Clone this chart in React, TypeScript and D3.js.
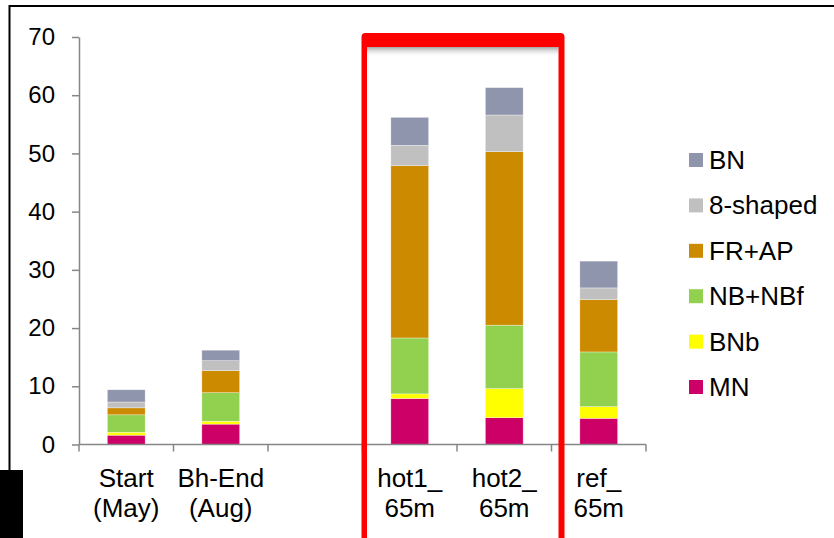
import React, { useRef, useEffect } from 'react';
import * as d3 from 'd3';

// categories (blank slot between Bh-End and hot1)
const categories = ['Start\n(May)', 'Bh-End\n(Aug)', '', 'hot1_\n65m', 'hot2_\n65m', 'ref_\n65m'];

// series, bottom to top
const seriesNames = ['MN', 'BNb', 'NB+NBf', 'FR+AP', '8-shaped', 'BN'];
const seriesColors = ['#cc0066', '#ffff00', '#92d050', '#cc8a00', '#c0c0c0', '#8f95ad'];

const mnValues = [1.6, 3.5, 0, 7.9, 4.6, 4.5];
const bnbValues = [0.5, 0.5, 0, 0.8, 5.0, 2.0];
const nbNbfValues = [3.0, 4.9, 0, 9.6, 10.9, 9.4];
const frApValues = [1.2, 3.8, 0, 29.6, 29.8, 9.0];
const eightShapedValues = [1.0, 1.7, 0, 3.5, 6.3, 2.0];
const bnValues = [2.1, 1.8, 0, 4.8, 4.7, 4.6];

const yTicks = [0, 10, 20, 30, 40, 50, 60, 70];

const W = 834;
const H = 538;
const FONT = '"Liberation Sans", Arial, sans-serif';

const App: React.FC = () => {
  const svgRef = useRef<SVGSVGElement>(null);

  useEffect(() => {
    if (!svgRef.current) return;
    const svg = d3.select(svgRef.current);
    svg.selectAll('*').remove();

    const left = 79;
    const right = 646;
    const y0 = 444.5;
    const yTop = 37;

    const rows = categories.map((c, i) => ({
      cat: c,
      MN: mnValues[i],
      BNb: bnbValues[i],
      'NB+NBf': nbNbfValues[i],
      'FR+AP': frApValues[i],
      '8-shaped': eightShapedValues[i],
      BN: bnValues[i],
    }));

    const x = d3
      .scaleBand<number>()
      .domain(categories.map((_, i) => i))
      .range([left, right])
      .paddingInner(0.6)
      .paddingOuter(0.3);
    const step = x.step();

    const y = d3.scaleLinear().domain([0, 70]).range([y0, yTop]);

    const color = d3.scaleOrdinal<string, string>().domain(seriesNames).range(seriesColors);

    const stacked = d3.stack<any>().keys(seriesNames)(rows);

    // outer black frame
    svg.append('line').attr('x1', 9).attr('x2', W).attr('y1', 6).attr('y2', 6)
      .attr('stroke', '#000').attr('stroke-width', 2.2);
    svg.append('line').attr('x1', 9.5).attr('x2', 9.5).attr('y1', 5).attr('y2', 470)
      .attr('stroke', '#000').attr('stroke-width', 2);
    svg.append('rect').attr('x', 0).attr('y', 470).attr('width', 23).attr('height', H - 470)
      .attr('fill', '#000');

    // y axis
    const yAxis = svg
      .append('g')
      .attr('transform', `translate(${left},0)`)
      .call(d3.axisLeft(y).tickValues(yTicks).tickSize(7).tickSizeOuter(0).tickPadding(17));
    yAxis.select('.domain').attr('stroke', '#868686').attr('stroke-width', 1.5);
    yAxis.selectAll('.tick line').attr('stroke', '#868686').attr('stroke-width', 1.5);
    yAxis.selectAll('text')
      .style('font-family', FONT)
      .style('font-size', '24px')
      .style('fill', '#000');

    // bars
    svg
      .append('g')
      .selectAll('g')
      .data(stacked)
      .enter()
      .append('g')
      .attr('fill', (d) => color(d.key))
      .selectAll('rect')
      .data((d) => d.filter((p) => p[1] - p[0] > 0).map((p) => ({ p, i: rows.indexOf(p.data) })))
      .enter()
      .append('rect')
      .attr('x', (d) => x(d.i) as number)
      .attr('width', x.bandwidth())
      .attr('y', (d) => y(d.p[1]))
      .attr('height', (d) => y(d.p[0]) - y(d.p[1]))
      .attr('stroke', 'rgba(255,255,255,0.55)')
      .attr('stroke-width', 0.6);

    // x axis
    const xAxis = svg.append('g');
    xAxis.append('line')
      .attr('x1', left).attr('x2', right).attr('y1', y0).attr('y2', y0)
      .attr('stroke', '#868686').attr('stroke-width', 1.5);
    xAxis.selectAll('.xtick')
      .data(d3.range(categories.length + 1))
      .enter()
      .append('line')
      .attr('x1', (i) => left + i * step)
      .attr('x2', (i) => left + i * step)
      .attr('y1', y0)
      .attr('y2', y0 + 7)
      .attr('stroke', '#868686')
      .attr('stroke-width', 1.5);

    const labels = xAxis.selectAll('.xlabel')
      .data(categories)
      .enter()
      .append('text')
      .attr('text-anchor', 'middle')
      .style('font-family', FONT)
      .style('font-size', '26px')
      .attr('fill', '#000');
    labels.each(function (c, i) {
      const cx = (x(i) as number) + x.bandwidth() / 2;
      c.split('\n').forEach((line, k) => {
        d3.select(this).append('tspan').attr('x', cx).attr('y', 487 + k * 30).text(line);
      });
    });

    // legend, top entry = last series
    const legend = svg.append('g');
    const legendItems = seriesNames.slice().reverse();
    legendItems.forEach((name, k) => {
      const cy = 160 + k * 45.4;
      legend.append('rect')
        .attr('x', 689).attr('y', cy - 7).attr('width', 14).attr('height', 14)
        .attr('fill', color(name));
      legend.append('text')
        .attr('x', 709).attr('y', cy + 9)
        .style('font-family', FONT)
        .style('font-size', '26px')
        .attr('fill', '#000')
        .text(name);
    });

    // red highlight frame around hot1/hot2
    const defs = svg.append('defs');
    const grad = defs.append('linearGradient').attr('id', 'shade').attr('x1', 0).attr('x2', 0).attr('y1', 0).attr('y2', 1);
    grad.append('stop').attr('offset', '0%').attr('stop-color', '#9a9a9a').attr('stop-opacity', 0.9);
    grad.append('stop').attr('offset', '100%').attr('stop-color', '#ffffff').attr('stop-opacity', 0);

    const fx0 = left + 3 * step - 1;
    const fx1 = left + 5 * step + 13;
    svg.append('rect')
      .attr('x', fx0 + 5.5).attr('y', 47).attr('width', fx1 - fx0 - 11.5).attr('height', 10)
      .attr('fill', 'url(#shade)');
    const frame = d3.path();
    frame.moveTo(fx0, H + 5);
    frame.lineTo(fx0, 37);
    frame.quadraticCurveTo(fx0, 33, fx0 + 4, 33);
    frame.lineTo(fx1 - 4, 33);
    frame.quadraticCurveTo(fx1, 33, fx1, 37);
    frame.lineTo(fx1, H + 5);
    frame.lineTo(fx1 - 6, H + 5);
    frame.lineTo(fx1 - 6, 47);
    frame.lineTo(fx0 + 5.5, 47);
    frame.lineTo(fx0 + 5.5, H + 5);
    frame.closePath();
    svg.append('path').attr('d', frame.toString()).attr('fill', '#ff0000');
  }, []);

  return (
    <div className="stacked-chart">
      <svg
        ref={svgRef}
        width={W}
        height={H}
        style={{ position: 'absolute', left: 0, top: 0, background: '#fff' }}
      ></svg>
    </div>
  );
};

export default App;
